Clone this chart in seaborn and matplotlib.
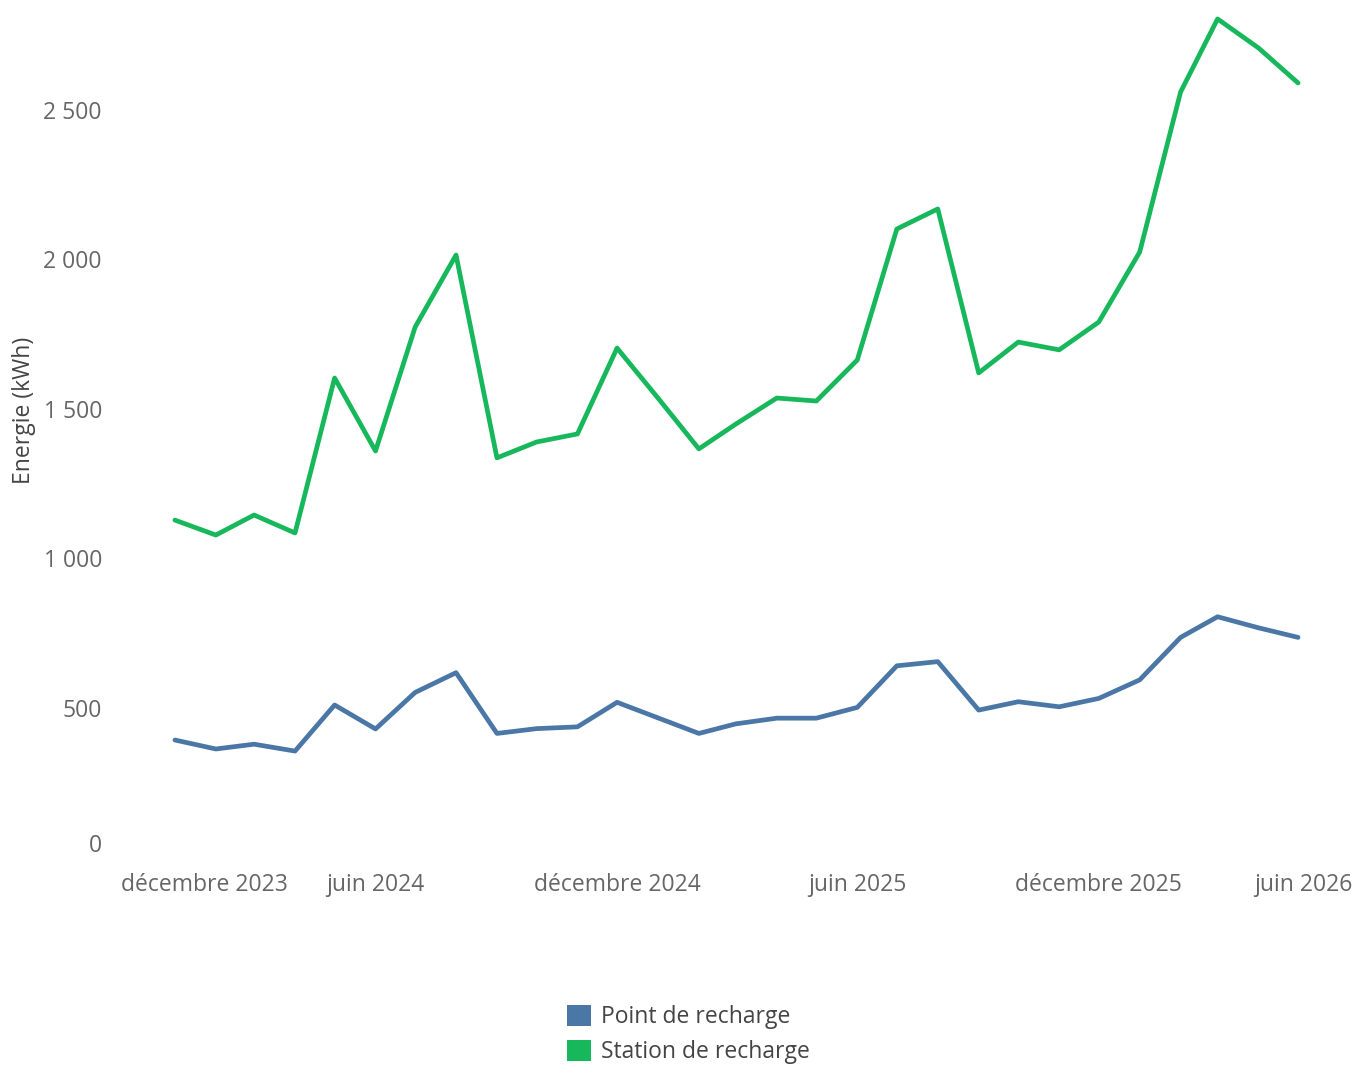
import pandas as pd
import matplotlib
matplotlib.use('Agg')
import matplotlib.pyplot as plt
import matplotlib.transforms as mtransforms
from matplotlib.patches import Patch
import seaborn as sns

# --- Données (kWh par mois) ---
MOIS = ['2024-01', '2024-02', '2024-03', '2024-04', '2024-05', '2024-06',
        '2024-07', '2024-08', '2024-09', '2024-10', '2024-11', '2024-12',
        '2025-01', '2025-02', '2025-03', '2025-04', '2025-05', '2025-06',
        '2025-07', '2025-08', '2025-09', '2025-10', '2025-11', '2025-12',
        '2026-01', '2026-02', '2026-03', '2026-04', '2026-05']

point_recharge = [393, 363, 379, 356, 510, 430, 552, 618, 415, 431, 437, 519,
                  467, 415, 447, 466, 466, 502, 641, 655, 493, 521, 504, 532,
                  594, 736, 805, 768, 736]

station_recharge = [1128, 1078, 1145, 1085, 1603, 1359, 1773, 2014, 1336, 1389,
                    1416, 1703, 1536, 1366, 1449, 1536, 1526, 1663, 2101, 2168,
                    1620, 1723, 1697, 1790, 2024, 2559, 2803, 2706, 2589]

SERIES = ['Point de recharge', 'Station de recharge']
COULEURS = ['#4a77a6', '#17b75b']

TICKS_X = ['2023-12-01', '2024-06-01', '2024-12-01', '2025-06-01', '2025-12-01', '2026-06-01']
LABELS_X = ['décembre 2023', 'juin 2024', 'décembre 2024', 'juin 2025', 'décembre 2025', 'juin 2026']
TICKS_Y = [0, 500, 1000, 1500, 2000, 2500]

# --- Table longue pour seaborn ---
df = pd.DataFrame({
    'Mois': pd.to_datetime(MOIS * 2),
    'Energie': point_recharge + station_recharge,
    'Type': [SERIES[0]] * len(MOIS) + [SERIES[1]] * len(MOIS),
})

sns.set_theme(style='white')
plt.rcParams['font.family'] = ['Open Sans', 'DejaVu Sans']

fig = plt.figure(figsize=(13.57, 10.65), dpi=100)
W, H = 1357, 1065
ax = fig.add_axes([120 / W, 1 - 857.6 / H, 1225 / W, 857.6 / H])

sns.lineplot(data=df, x='Mois', y='Energie', hue='Type', hue_order=SERIES,
             palette=COULEURS, linewidth=3.4, legend=False, ax=ax)

for s in ax.spines.values():
    s.set_visible(False)
ax.grid(False)

# axe x : 1er déc 2023 à 134 px, 1er juin 2026 à 1339 px
px_jour = 1205 / 913
x0 = pd.Timestamp('2023-12-01') - pd.Timedelta(days=14 / px_jour)
x1 = pd.Timestamp('2026-06-01') + pd.Timedelta(days=6 / px_jour)
ax.set_xlim(x0, x1)
ax.set_xticks(pd.to_datetime(TICKS_X))
ax.set_xticklabels(LABELS_X)

ax.set_ylim(0, 857.6 / 149.6 * 500)
ax.set_yticks(TICKS_Y)
ax.set_yticklabels([f'{v:,}'.replace(',', ' ') for v in TICKS_Y])

ax.tick_params(axis='x', length=0, pad=11, labelsize=16.5, labelcolor='#666666')
ax.tick_params(axis='y', length=0, pad=13, labelsize=16.5, labelcolor='#666666')

ax.set_xlabel('')
ax.set_ylabel('Energie (kWh)', fontsize=16.5, color='#444444')
ax.yaxis.set_label_coords(-0.0686, 0.522)

handles = [Patch(facecolor=c, edgecolor='none') for c in COULEURS]
fig.legend(handles, SERIES, loc='upper left', bbox_to_anchor=(567 / W, 1 - 1005 / H),
           frameon=False, fontsize=16.5, handlelength=1.05, handleheight=1.05,
           handletextpad=0.45, labelspacing=0.45, borderpad=0, borderaxespad=0,
           labelcolor='#444444')

# décalage des étiquettes en bord (comme dans l'original)
fig.canvas.draw()
xlabs = ax.get_xticklabels()
xlabs[0].set_transform(xlabs[0].get_transform() + mtransforms.ScaledTranslation(70 / 100, 0, fig.dpi_scale_trans))
xlabs[-1].set_transform(xlabs[-1].get_transform() + mtransforms.ScaledTranslation(-36 / 100, 0, fig.dpi_scale_trans))
ylabs = ax.get_yticklabels()
ylabs[0].set_transform(ylabs[0].get_transform() + mtransforms.ScaledTranslation(0, 15 / 100, fig.dpi_scale_trans))

fig.savefig('out.png', dpi=100)
